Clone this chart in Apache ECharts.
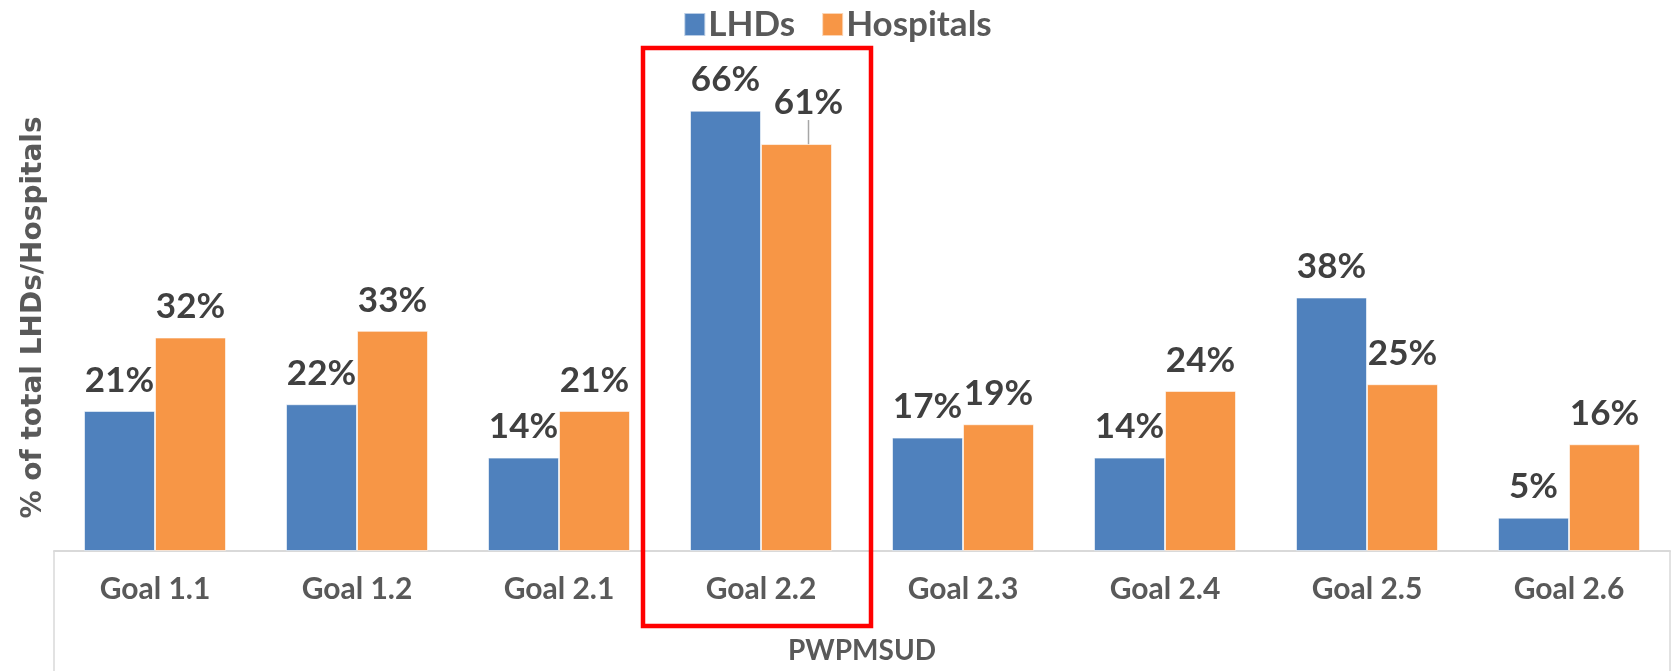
<!DOCTYPE html>
<html>
<head>
<meta charset="utf-8">
<script src="https://cdn.jsdelivr.net/npm/echarts@6/dist/echarts.min.js"></script>
<style>html,body{margin:0;padding:0;background:#fff}#c{width:1675px;height:671px}</style>
</head>
<body>
<div id="c"></div>
<script>
const categories = ['Goal 1.1','Goal 1.2','Goal 2.1','Goal 2.2','Goal 2.3','Goal 2.4','Goal 2.5','Goal 2.6'];
const groupLabel = ['PWPMSUD'];
const lhds = [21, 22, 14, 66, 17, 14, 38, 5];
const hospitals = [32, 33, 21, 61, 19, 24, 25, 16];
const seriesNames = ['LHDs', 'Hospitals'];
const highlightCategory = 'Goal 2.2';

const FONT = 'Lato, "Open Sans", sans-serif';
const hiIdx = categories.indexOf(highlightCategory);
const chart = echarts.init(document.getElementById('c'), null, {renderer: 'canvas'});

const labelStyle = {
  show: true, position: 'top', distance: 13,
  formatter: p => p.value + '%',
  fontFamily: FONT, fontWeight: 'bold', fontSize: 35, color: '#404040'
};

const hospData = hospitals.map((v, i) => i === hiIdx
  ? {value: v, labelLine: {show: true, length2: 0, lineStyle: {color: '#a6a6a6', width: 1.5}}}
  : {value: v, labelLine: {show: false}});

const option = {
  animation: false,
  backgroundColor: '#fff',
  legend: {
    top: 2, left: 'center',
    itemWidth: 21, itemHeight: 23, itemGap: 26,
    icon: 'rect',
    textStyle: {fontFamily: FONT, fontWeight: 'bold', fontSize: 35, color: '#595959', padding: [0, 0, 0, -2]},
    data: seriesNames
  },
  grid: {left: 54, right: 5, top: 84, bottom: 120, containLabel: false},
  xAxis: [{
    type: 'category', data: categories, position: 'bottom',
    axisLine: {show: true, lineStyle: {color: '#d9d9d9', width: 2}},
    axisTick: {show: false},
    axisLabel: {margin: 23, fontFamily: FONT, fontWeight: 'bold', fontSize: 30, color: '#595959'}
  }, {
    type: 'category', data: groupLabel, position: 'bottom', offset: 0,
    axisLine: {show: false},
    axisTick: {show: true, length: 125, lineStyle: {color: '#d9d9d9', width: 1.5}},
    axisLabel: {margin: 86, fontFamily: FONT, fontWeight: 'bold', fontSize: 28, color: '#595959'}
  }],
  yAxis: {
    type: 'value', min: 0, max: 70,
    axisLine: {show: false}, axisTick: {show: false}, axisLabel: {show: false},
    splitLine: {show: false},
    name: '% of total LHDs/Hospitals', nameLocation: 'middle', nameRotate: 90, nameGap: 6,
    nameTextStyle: {fontFamily: '"DejaVu Sans", sans-serif', fontWeight: 'bold', fontSize: 28, color: '#595959'}
  },
  series: [{
    name: seriesNames[0], type: 'bar', data: lhds, xAxisIndex: 0,
    barWidth: 71, barGap: '0%',
    itemStyle: {color: '#4F81BD', borderColor: 'rgba(255,255,255,0.6)', borderWidth: 1},
    label: labelStyle
  }, {
    name: seriesNames[1], type: 'bar', data: hospData, xAxisIndex: 0,
    barWidth: 71, barGap: '0%',
    itemStyle: {color: '#F79646', borderColor: 'rgba(255,255,255,0.6)', borderWidth: 1},
    label: labelStyle,
    labelLine: {show: false},
    labelLayout: function (p) {
      if (p.dataIndex === hiIdx) return {dx: 12, dy: -11};
      return {};
    }
  }]
};
chart.setOption(option);

// red highlight box around the chosen category
const x0 = chart.convertToPixel({xAxisIndex: 0}, hiIdx);
const x1 = chart.convertToPixel({xAxisIndex: 0}, hiIdx + 1);
const catW = x1 - x0;
chart.setOption({
  graphic: [{
    type: 'rect', z: 100,
    shape: {x: x0 - catW / 2 - 17, y: 48, width: catW + 26, height: 578},
    style: {fill: 'none', stroke: '#FF0000', lineWidth: 4.5}
  }]
});
</script>
</body>
</html>
